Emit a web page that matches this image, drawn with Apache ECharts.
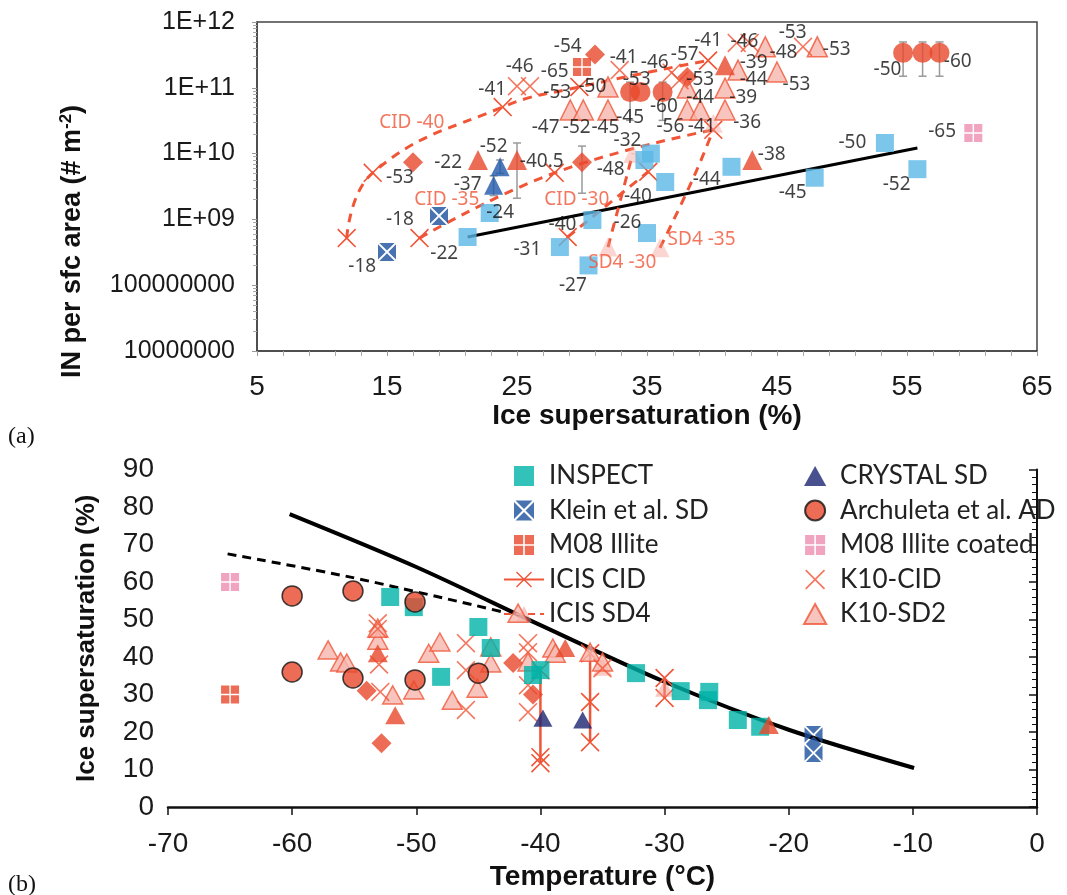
<!DOCTYPE html>
<html><head><meta charset="utf-8">
<script src="https://cdn.jsdelivr.net/npm/echarts@6/dist/echarts.min.js"></script>
<style>html,body{margin:0;padding:0;background:#fff}#c{width:1067px;height:895px}</style>
</head><body><div id="c"></div><script>
// ================= Panel (a): [ice supersaturation (%), IN per sfc area (# m-2)] =================
const aInspect = [[53.3,1.45e10],[55.8,5.8e9],[47.9,4.3e9],[41.5,6.3e9],[36.4,3.7e9],[35.3,1.0e10],[34.8,8.0e9],[22.9,1.25e9],[21.2,5.4e8],[28.3,3.8e8],[30.5,2.0e8],[30.8,9.8e8],[35.0,6.2e8]];
const aKlein = [[19.0,1.13e9],[15.0,3.2e8]];
const aM08 = [[30.0,2.07e11]];
const aM08Coated = [[60.1,2.06e10]];
const aCrystal = [[23.7,6.3e9],[23.2,3.3e9]];
const aArchuleta = [[33.7,8.6e10],[34.5,8.6e10],[36.2,8.6e10],[54.7,3.4e11],[56.2,3.4e11],[57.5,3.4e11]];
const aRedTri = [[22.0,8.0e9],[25.0,8.0e9],[41.0,2.2e11],[43.1,8.0e9]];
const aDiamond = [[31.0,3.2e11],[17.0,7.4e9],[30.0,7.4e9],[38.1,1.46e11]];
const aK10CID = [[25.0,1.06e11],[26.0,1.06e11],[32.9,1.86e11],[36.9,1.7e11],[37.5,1.3e11],[41.9,4.8e11],[42.9,4.8e11],[47.0,4.2e11]];
const aK10SD2 = [[29.1,4.6e10],[30.1,4.6e10],[32.0,4.6e10],[32.0,1.03e11],[38.1,4.6e10],[39.1,4.6e10],[41.0,4.6e10],[38.1,9.9e10],[41.0,9.9e10],[42.0,1.86e11],[44.1,4.2e11],[48.1,4.2e11],[45.0,1.74e11]];
const aSD4pts = [[32.0,3.8e8],[36.0,3.7e8],[33.9,1.0e10],[40.1,2.9e10]];
const aCID40 = [[11.9,5.2e8],[13.9,5.1e9],[23.9,5.1e10],[29.8,1.03e11],[39.7,2.6e11]];
const aCID35 = [[17.5,5.2e8],[27.9,5.1e9],[40.1,2.3e10]];
const aCID30 = [[28.9,5.4e8],[35.1,5.3e9]];
const aSD4m30 = [[32.0,3.8e8],[33.9,1.0e10]];
const aSD4m35 = [[36.0,3.7e8],[38.5,4.0e9],[40.1,2.3e10]];
const aFit = [[21.2,5.4e8],[55.8,1.22e10]];
// error bars: [x, low, high]
const aErr = [[33.7,3.2e10,1.22e11],[36.2,3.2e10,1.22e11],[54.7,1.5e11,4.97e11],[56.2,1.5e11,4.97e11],[57.5,1.5e11,4.97e11],[25.0,2.1e9,1.45e10],[30.0,2.5e9,1.3e10],[23.7,5.0e9,8.0e9],[23.2,2.3e9,4.6e9]];
// temperature annotations: [x, y, text]
const aLabels = [[28.9,4.17e11,'-54'],[27.9,1.74e11,'-65'],[25.2,2.07e11,'-46'],[23.1,9.3e10,'-41'],[28.1,8.6e10,'-53'],[30.8,1.03e11,'-50'],[33.2,2.84e11,'-41'],[35.6,2.38e11,'-46'],[37.9,3.15e11,'-57'],[34.2,1.32e11,'-53'],[39.1,1.32e11,'-53'],[27.2,2.45e10,'-47'],[29.6,2.45e10,'-52'],[31.8,2.45e10,'-45'],[33.7,3.47e10,'-45'],[36.3,5.1e10,'-60'],[36.8,2.54e10,'-56'],[39.1,7.2e10,'-44'],[39.2,2.54e10,'-41'],[42.7,2.92e10,'-36'],[42.4,7.2e10,'-39'],[43.2,1.32e11,'-44'],[43.2,2.38e11,'-39'],[39.7,5.3e11,'-41'],[42.5,4.97e11,'-46'],[45.5,3.38e11,'-48'],[46.2,6.8e11,'-53'],[49.6,3.75e11,'-53'],[46.5,1.1e11,'-53'],[53.5,1.86e11,'-50'],[58.9,2.47e11,'-60'],[57.7,2.13e10,'-65'],[50.8,1.45e10,'-50'],[54.2,3.33e9,'-52'],[46.2,2.52e9,'-45'],[39.6,3.97e9,'-44'],[44.6,9.5e9,'-38'],[34.3,2.19e9,'-40'],[33.5,1.55e10,'-32'],[32.2,5.64e9,'-48'],[26.9,7.45e9,'-40.5'],[19.7,7.2e9,'-22'],[23.2,1.26e10,'-52'],[21.2,3.33e9,'-37'],[16.0,4.26e9,'-53'],[23.7,1.29e9,'-24'],[16.0,9.8e8,'-18'],[13.1,1.89e8,'-18'],[19.4,2.98e8,'-22'],[28.5,8.2e8,'-40'],[25.8,3.43e8,'-31'],[29.3,1.0e8,'-27'],[33.5,9.1e8,'-26']];
const aCurveLabels = [[16.9,2.92e10,'CID -40'],[19.6,1.97e9,'CID -35'],[29.6,1.97e9,'CID -30'],[33.1,2.17e8,'SD4 -30'],[39.2,4.87e8,'SD4 -35']];
const aXTicks = [5,15,25,35,45,55,65];

// ================= Panel (b): [temperature (°C), ice supersaturation (%)] =================
const bInspect = [[-52.1,56],[-50.2,53.3],[-45,48],[-44,42.4],[-48,34.7],[-40,36.5],[-40.6,35.2],[-32.3,35.7],[-28.7,30.9],[-26.4,30.7],[-26.5,28.5],[-24.1,23.2],[-22.3,21.4]];
const bKlein = [[-18,19.2],[-18,14.4]];
const bM08 = [[-65,30]];
const bM08Coated = [[-65,60]];
const bCrystal = [[-39.8,23.7],[-36.6,23.2]];
const bArchuleta = [[-60,56.3],[-55.1,57.6],[-50.1,54.7],[-60,36],[-55.1,34.4],[-50.1,33.9],[-45,35.7]];
const bRedTri = [[-53.1,41],[-51.7,24.5],[-38,42.4],[-21.6,21.9]];
const bDiamond = [[-54,31],[-52.8,17],[-42.2,38.4],[-40.6,30]];
const bK10CID = [[-53.1,49],[-53.1,47.5],[-53,38],[-52.9,30.7],[-46,43.7],[-46,36.5],[-46,25.9],[-41,43.7],[-41,41.3],[-41,32.5],[-41,25.3],[-35,37]];
const bK10SD2 = [[-57.1,41.9],[-56.1,38.7],[-55.6,38.4],[-53.1,44.5],[-53.1,47.7],[-51.9,29.9],[-50.2,31.2],[-49,41],[-48.1,44],[-47.1,28.5],[-45.1,31.7],[-44,42.7],[-44,38.4],[-41,38.7],[-39,42.4],[-38.8,41],[-36,41.3],[-35,38.7],[-41.8,51.7]];
const bCID40 = [[-40,11.7],[-40,13.3],[-40,36.5]];
const bCID36 = [[-36,17.3],[-36,28],[-36,41]];
const bCID30 = [[-30,29.1],[-30,34.4]];
const bSD4 = [[-35,37.3],['-','-'],[-30,31.7]];
const bSolid = [[-60.2,78.1],[-50,64],[-40,48.5],[-30,33.4],[-20,20.6],[-9.9,10.4]];
const bDashed = [[-65.2,67.5],[-55.3,61.3],[-43,52]];
const bXTicks = [-70,-60,-50,-40,-30,-20,-10,0];
const bYTicks = [0,10,20,30,40,50,60,70,80,90];

// ================= styling =================
const RED = '#E9472A', XRED = '#F05537', SKY = '#5BB8E6', TEAL = '#00B3A8', KLEIN = '#1B4F9E';
const NARROW = "'Liberation Sans Narrow','Liberation Sans',Arial,sans-serif";
const SANS = "'Liberation Sans',Arial,sans-serif";
const LBL = "Lato,'Noto Sans',sans-serif";
const XSYM = 'path://M0,1.2L1.2,0L10,8.8L18.8,0L20,1.2L11.2,10L20,18.8L18.8,20L10,11.2L1.2,20L0,18.8L8.8,10Z';
const BOXX = 'path://M1.5,0L18.5,0L10,8.5ZM20,1.5L20,18.5L11.5,10ZM18.5,20L1.5,20L10,11.5ZM0,18.5L0,1.5L8.5,10Z';
const BOXPLUS = 'path://M0,0L9.2,0L9.2,9.2L0,9.2ZM10.8,0L20,0L20,9.2L10.8,9.2ZM0,10.8L9.2,10.8L9.2,20L0,20ZM10.8,10.8L20,10.8L20,20L10.8,20Z';
const RECT = 'path://M0,0L20,0L20,20L0,20Z';
const TRI = 'path://M10,0L20,18L0,18Z';

function sc(name, g, data, symbol, size, style, extra){
  return Object.assign({name, type:'scatter', xAxisIndex:g, yAxisIndex:g, data, symbol, symbolSize:size, symbolKeepAspect:true, itemStyle:style, silent:true, z:5}, extra||{});
}
function curve(name, g, data, dashed, color, extra){
  return Object.assign({name, type:'line', xAxisIndex:g, yAxisIndex:g, data, smooth:0.45, symbol:XSYM, symbolSize:19, symbolKeepAspect:true,
    itemStyle:{color}, lineStyle:{color, width:3, type: dashed ? [9,7] : 'solid'}, silent:true, z:4}, extra||{});
}
function textSeries(g, arr, color, size, family){
  return {type:'scatter', xAxisIndex:g, yAxisIndex:g, symbolSize:1, itemStyle:{color:'rgba(0,0,0,0)'}, silent:true, z:8,
    data: arr.map(d => ({value:[d[0], d[1]], name:d[2]})),
    label:{show:true, position:'inside', formatter:'{b}', color, fontFamily:family, fontSize:size}};
}
function errRender(params, api){
  const x = api.value(0), p1 = api.coord([x, api.value(1)]), p2 = api.coord([x, api.value(2)]), w = 4;
  const st = {stroke:'#9a9a9a', lineWidth:1.5};
  return {type:'group', children:[
    {type:'line', shape:{x1:p1[0],y1:p1[1],x2:p2[0],y2:p2[1]}, style:st},
    {type:'line', shape:{x1:p1[0]-w,y1:p1[1],x2:p1[0]+w,y2:p1[1]}, style:st},
    {type:'line', shape:{x1:p2[0]-w,y1:p2[1],x2:p2[0]+w,y2:p2[1]}, style:st}]};
}
function expLabel(v){
  const e = Math.round(Math.log10(v));
  return e >= 9 ? '1E+' + String(e).padStart(2,'0') : String(Math.round(v));
}

const series = [
  // ---- panel (a)
  {type:'custom', xAxisIndex:0, yAxisIndex:0, data:aErr, renderItem:errRender, encode:{x:0, y:[1,2]}, silent:true, z:3},
  {type:'line', xAxisIndex:0, yAxisIndex:0, data:aFit, symbol:'none', lineStyle:{color:'#000', width:3}, silent:true, z:4},
  curve('a-CID40', 0, aCID40, true, XRED),
  curve('a-CID35', 0, aCID35, true, XRED),
  curve('a-CID30', 0, aCID30, true, XRED),
  curve('a-SD4-30', 0, aSD4m30, true, XRED, {symbol:'none'}),
  curve('a-SD4-35', 0, aSD4m35, true, XRED, {symbol:'none'}),
  sc('a-SD4', 0, aSD4pts, 'triangle', 19, {color:'rgba(244,150,140,0.5)'}),
  sc('a-K10SD2', 0, aK10SD2, 'triangle', 20, {color:'#F6B7AE', borderColor:XRED, borderWidth:1.5}),
  sc('a-K10CID', 0, aK10CID, XSYM, 19, {color:XRED}),
  sc('a-INSPECT', 0, aInspect, 'rect', 18, {color:SKY}),
  sc('a-Klein', 0, aKlein, BOXX, 18, {color:KLEIN}),
  sc('a-M08', 0, aM08, BOXPLUS, 18, {color:RED}),
  sc('a-M08c', 0, aM08Coated, BOXPLUS, 18, {color:'#EE8DB0'}),
  sc('a-Crystal', 0, aCrystal, 'triangle', 19, {color:'#1E58AA'}),
  sc('a-RedTri', 0, aRedTri, 'triangle', 20, {color:RED}),
  sc('a-Diamond', 0, aDiamond, 'diamond', 20, {color:RED}),
  sc('a-Archuleta', 0, aArchuleta, 'circle', 20, {color:RED}),
  textSeries(0, aLabels, '#111', 19, "'Noto Sans',Lato,sans-serif"),
  textSeries(0, aCurveLabels, XRED, 19, "'Noto Sans',Lato,sans-serif"),
  // ---- panel (b)
  {type:'line', xAxisIndex:1, yAxisIndex:1, data:bSolid, smooth:0.3, symbol:'none', lineStyle:{color:'#000', width:4}, silent:true, z:3},
  {type:'line', xAxisIndex:1, yAxisIndex:1, data:bDashed, smooth:0.3, symbol:'none', lineStyle:{color:'#000', width:3, type:[9,6]}, silent:true, z:3},
  curve('ICIS CID', 1, bCID40, false, XRED, {smooth:false, lineStyle:{color:XRED, width:2.5}}),
  curve('ICIS CID', 1, bCID36, false, XRED, {smooth:false, lineStyle:{color:XRED, width:2.5}}),
  curve('ICIS CID', 1, bCID30, false, XRED, {smooth:false, lineStyle:{color:XRED, width:2.5}}),
  {name:'ICIS SD4', type:'line', xAxisIndex:1, yAxisIndex:1, data:bSD4, symbol:TRI, symbolSize:19, symbolKeepAspect:true, connectNulls:false,
    itemStyle:{color:'rgba(244,150,140,0.5)'}, lineStyle:{color:XRED, width:3, type:[7,5]}, silent:true, z:4},
  sc('K10-SD2', 1, bK10SD2, TRI, 20, {color:'#F6B7AE', borderColor:XRED, borderWidth:1.5}),
  sc('K10-CID', 1, bK10CID, XSYM, 19, {color:XRED}),
  sc('INSPECT', 1, bInspect, RECT, 18, {color:TEAL}),
  sc('Klein et al. SD', 1, bKlein, BOXX, 18, {color:KLEIN}),
  sc('M08 Illite', 1, bM08, BOXPLUS, 18, {color:RED}),
  sc('M08 Illite coated', 1, bM08Coated, BOXPLUS, 18, {color:'#EE8DB0'}),
  sc('CRYSTAL SD', 1, bCrystal, TRI, 19, {color:'#1C2472'}),
  sc('b-RedTri', 1, bRedTri, TRI, 20, {color:RED}),
  sc('b-Diamond', 1, bDiamond, 'diamond', 20, {color:RED}),
  sc('Archuleta et al. AD', 1, bArchuleta, 'circle', 20, {color:RED, borderColor:'#111', borderWidth:1.5})
];

const axisLbl = (ff, fs, margin) => ({fontFamily:ff, fontSize:fs, color:'#1a1a1a', margin});
const legendText = {fontFamily:LBL, fontSize:26, color:'#222'};

const option = {
  animation:false,
  backgroundColor:'#fff',
  grid:[
    {left:257, top:22, width:780, height:329, show:true, borderColor:'#444', borderWidth:1.5, backgroundColor:'transparent'},
    {left:168, top:469.5, width:869, height:337.5}
  ],
  xAxis:[
    {gridIndex:0, type:'value', min:aXTicks[0], max:aXTicks[aXTicks.length-1], interval:10,
     axisLine:{show:true, onZero:false, lineStyle:{color:'#444', width:1.5}},
     axisTick:{show:true, length:5, lineStyle:{color:'#999'}},
     minorTick:{show:true, splitNumber:5, length:5, lineStyle:{color:'#aaa'}},
     splitLine:{show:false}, minorSplitLine:{show:false},
     axisLabel:axisLbl(NARROW, 28, 22),
     name:'Ice supersaturation (%)', nameLocation:'middle', nameGap:50,
     nameTextStyle:{fontFamily:NARROW, fontWeight:'bold', fontSize:28, color:'#111'}},
    {gridIndex:1, type:'value', min:bXTicks[0], max:bXTicks[bXTicks.length-1], interval:10,
     axisLine:{show:true, onZero:false, lineStyle:{color:'#111', width:2.5}},
     axisTick:{show:true, length:8, lineStyle:{color:'#111', width:1.5}},
     splitLine:{show:false},
     axisLabel:axisLbl(NARROW, 28, 23),
     name:'Temperature (°C)', nameLocation:'middle', nameGap:56,
     nameTextStyle:{fontFamily:NARROW, fontWeight:'bold', fontSize:28, color:'#111'}}
  ],
  yAxis:[
    {gridIndex:0, type:'log', logBase:10, min:1e7, max:1e12,
     axisLine:{show:true, lineStyle:{color:'#444', width:1.5}},
     axisTick:{show:true, length:5, lineStyle:{color:'#999'}},
     minorTick:{show:true, splitNumber:9, length:4, lineStyle:{color:'#aaa'}},
     splitLine:{show:false}, minorSplitLine:{show:false},
     axisLabel:Object.assign(axisLbl(SANS, 25, 22), {formatter:expLabel}),
     name:'IN per sfc area (# m{sup|-2})', nameLocation:'middle', nameRotate:90, nameGap:170,
     nameTextStyle:{fontFamily:SANS, fontWeight:'bold', fontSize:27, color:'#111', padding:[0,110,0,0],
       rich:{sup:{fontFamily:SANS, fontWeight:'bold', fontSize:17, verticalAlign:'top', padding:[0,0,12,0]}}}},
    {gridIndex:1, type:'value', min:bYTicks[0], max:bYTicks[bYTicks.length-1], interval:10,
     axisLine:{show:true, lineStyle:{color:'#111', width:2}},
     axisTick:{show:true, length:8, lineStyle:{color:'#111', width:1.5}},
     minorTick:{show:true, splitNumber:5, length:5, lineStyle:{color:'#111'}},
     splitLine:{show:false}, minorSplitLine:{show:false},
     axisLabel:axisLbl(NARROW, 28, 14),
     name:'Ice supersaturation (%)', nameLocation:'middle', nameRotate:90, nameGap:68,
     nameTextStyle:{fontFamily:SANS, fontWeight:'bold', fontSize:26, color:'#111'}}
  ],
  legend:[
    {orient:'vertical', left:503, top:463, padding:0, itemWidth:40, itemHeight:20, itemGap:8.5,
     data:['INSPECT','Klein et al. SD','M08 Illite','ICIS CID','ICIS SD4'],
     textStyle:legendText, selectedMode:false},
    {orient:'vertical', left:803, top:463, padding:0, itemWidth:40, itemHeight:20, itemGap:8.5,
     data:['CRYSTAL SD','Archuleta et al. AD','M08 Illite coated','K10-CID','K10-SD2'],
     textStyle:legendText, selectedMode:false}
  ],
  graphic:[
    {type:'text', left:8, top:425, style:{text:'(a)', font:"24px 'Liberation Serif',serif", fill:'#111'}},
    {type:'text', left:8, top:873, style:{text:'(b)', font:"24px 'Liberation Serif',serif", fill:'#111'}}
  ],
  series
};
const chart = echarts.init(document.getElementById('c'), null, {renderer:'canvas'});
chart.setOption(option);
</script></body></html>
